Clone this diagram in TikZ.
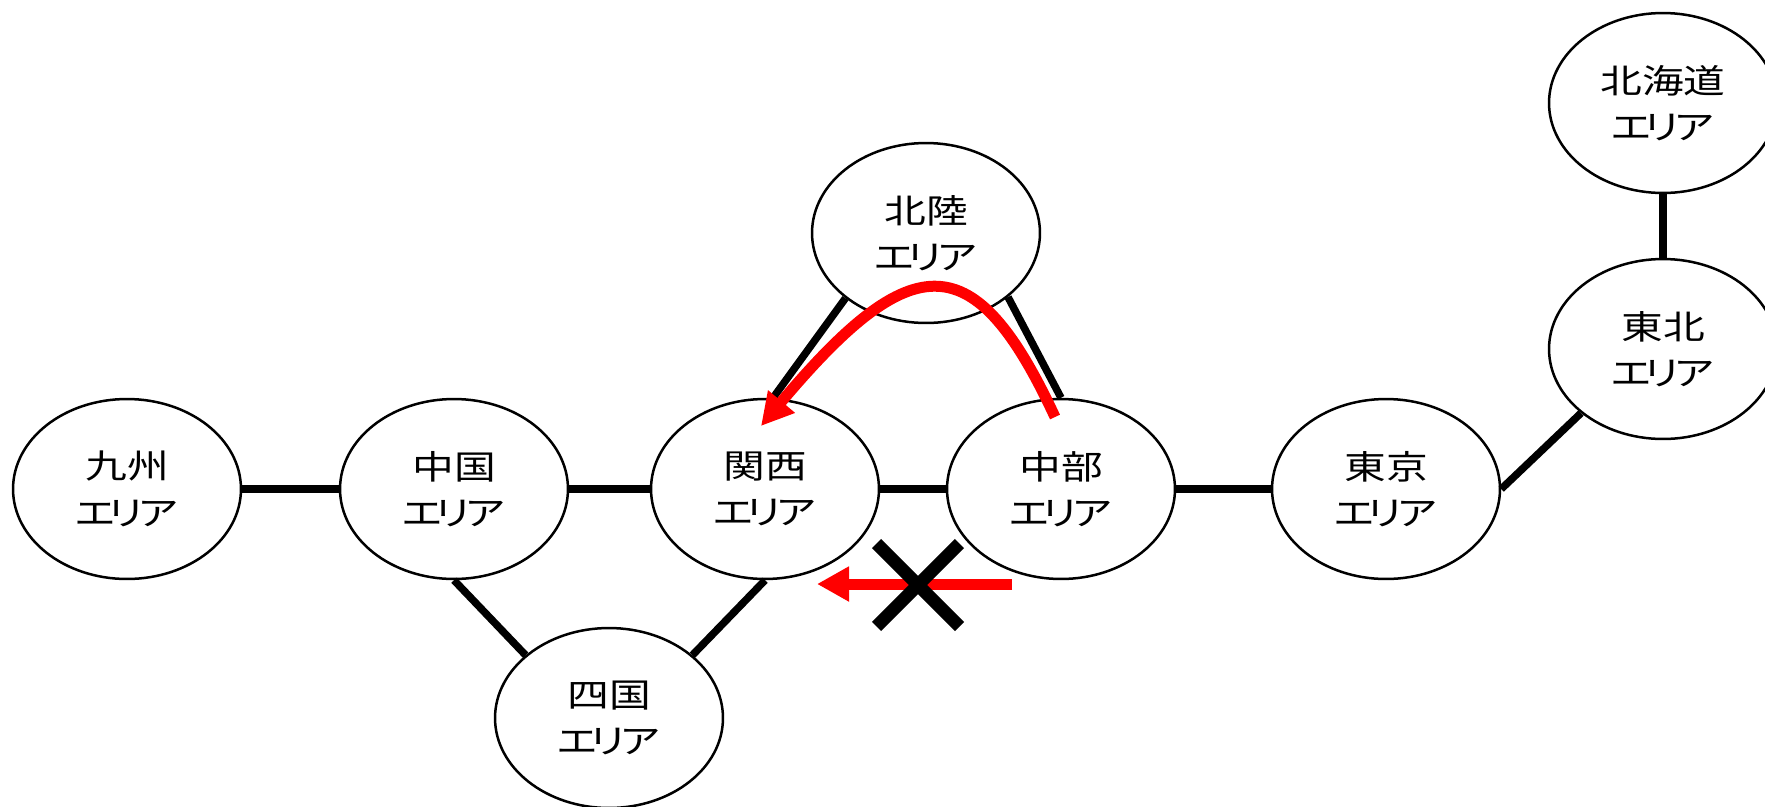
\documentclass[tikz,border=0pt]{standalone}
\usepackage{fontspec}
\newfontfamily\jpfont[FakeStretch=1.25]{Noto Sans CJK JP}
\usepackage{tikz}
\usetikzlibrary{arrows.meta,shapes,positioning}
\newcommand{\eria}{エ\kern-0.22cm リ\kern-0.2cm ア}

\begin{document}
\begin{tikzpicture}[x=0.02cm,y=-0.02cm]
\tikzset{every node/.style={draw,ellipse,line width=0.05cm,fill=white,
minimum width=4.56cm, minimum height=3.6cm, inner sep=0pt, align=center,
font=\jpfont\fontsize{19}{26.5}\selectfont},
link/.style={line width=0.15cm},
move/.style={draw=red,line width=0.22cm,-{Triangle[length=0.64cm,width=0.66cm]}}}
\useasboundingbox (0,0) rectangle (1765,806);

\node (Kyushu area) at (127,489) {九州\\\eria};
\node (Chugoku area) at (454,489) {中国\\\eria};
\node (Kansai area) at (765,489) {関西\\\eria};
\node (Chubu area) at (1061,489) {中部\\\eria};
\node (Tokyo area) at (1386,489) {東京\\\eria};
\node (Hokuriku area) at (926,233) {北陸\\\eria};
\node (Shikoku area) at (609,718) {四国\\\eria};
\node (Tohoku area) at (1663,349) {東北\\\eria};
\node (Hokkaido area) at (1663,103) {北海道\\\eria};

\path[draw,link]
(Kyushu area) edge (Chugoku area)
(Chugoku area) edge (Kansai area)
(Kansai area) edge (Chubu area)
(Chubu area) edge (Tokyo area)
(Chugoku area.south) edge (Shikoku area.143)
(Kansai area.south) edge (Shikoku area.37)
(Hokuriku area.219) edge (Kansai area.85)
(Hokuriku area.322) edge (Chubu area.north)
(Tokyo area.east) edge (Tohoku area.218)
(Tohoku area) edge (Hokkaido area);

% power flow via Hokuriku, direct flow blocked
\coordinate (Chubu out) at (1055,417);
\coordinate (Kansai in) at (761,426);
\draw[move] (Chubu out) .. controls (975,245) and (913,245) .. (Kansai in);
\coordinate (direct start) at (1012,584);
\coordinate (direct end) at (817,584);
\draw[move] (direct start) -- (direct end);
\node (blocked) [cross out,draw=black,fill=none,line width=0.26cm,
minimum width=1.4cm,minimum height=1.4cm] at (918,585) {};
\end{tikzpicture}
\end{document}
